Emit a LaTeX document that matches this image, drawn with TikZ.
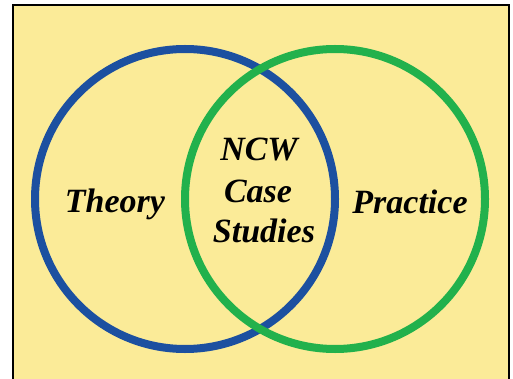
\documentclass[tikz,border=0pt]{standalone}
\usepackage{fontspec}
\setmainfont{Liberation Serif}
\definecolor{bgyellow}{RGB}{251,235,152}
\definecolor{setblue}{RGB}{28,80,160}
\definecolor{setgreen}{RGB}{34,177,76}
\begin{document}
\begin{tikzpicture}[x=1pt,y=-1pt,
  setring/.style={line width=8pt},
  lab/.style={font=\fontsize{34}{41}\selectfont\bfseries\itshape, inner sep=0pt, anchor=base, align=center}]
\useasboundingbox (0,0) rectangle (513,379);
\clip (0,0) rectangle (513,379);
\fill[white] (0,0) rectangle (513,379);
\draw[line width=2pt, fill=bgyellow] (12.5,5.5) rectangle (509,395);
\draw[setring, setblue] (185,199) circle[radius=150pt];
\draw[setring, setgreen] (335,199) circle[radius=150pt];
\node[lab] (theory) at (115,212) {Theory};
\node[lab] (practice) at (410,213) {Practice};
\node[lab] (ncw) at (259,161) {NCW};
\node[lab] (case) at (258,202) {Case};
\node[lab] (studies) at (264,242) {Studies};
\end{tikzpicture}
\end{document}
